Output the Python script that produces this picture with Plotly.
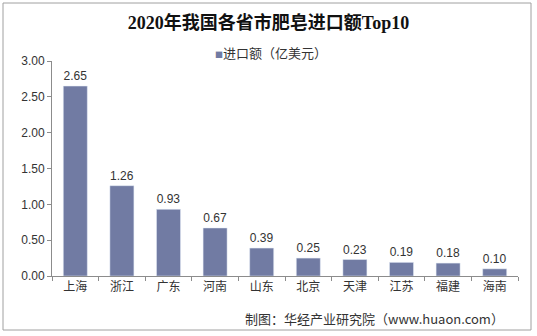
import plotly.graph_objects as go

categories = ["上海", "浙江", "广东", "河南", "山东", "北京", "天津", "江苏", "福建", "海南"]
values = [2.65, 1.26, 0.93, 0.67, 0.39, 0.25, 0.23, 0.19, 0.18, 0.10]
series_name = "进口额（亿美元）"
title_text = "2020年我国各省市肥皂进口额Top10"
source_text = "制图：华经产业研究院（www.huaon.com）"
y_ticks = [0, 0.5, 1.0, 1.5, 2.0, 2.5, 3.0]

W, H = 537, 336
L, R, T, B = 52, 19, 61, 60
pw = W - L - R
ph = H - T - B
bar_color = "#717ba3"

def px_x(x):
    return (x - L) / pw

def px_y(y):
    return (H - B - y) / ph

cjk = "Noto Sans CJK SC, Liberation Sans, sans-serif"

fig = go.Figure()
fig.add_trace(go.Bar(
    x=categories, y=values, name=series_name,
    marker=dict(color=bar_color),
    text=[f"{v:.2f}" for v in values],
    textposition="outside",
    textfont=dict(size=12, color="#333333", family="Liberation Sans, Arial, sans-serif"),
    cliponaxis=False,
    showlegend=False,
))

fig.update_layout(
    width=W, height=H,
    margin=dict(l=L, r=R, t=T, b=B),
    paper_bgcolor="white", plot_bgcolor="white",
    bargap=0.485,
    title=dict(text=f"<b>{title_text}</b>", x=0.5, xanchor="center", y=1 - 23 / H, yanchor="middle",
               font=dict(family="Liberation Serif, Noto Sans CJK SC, serif", size=18, color="#111111")),
    xaxis=dict(type="category", showline=True, linecolor="#8c8c8c", linewidth=1,
               ticks="outside", tickson="boundaries", ticklen=4, tickcolor="#8c8c8c",
               tickfont=dict(family=cjk, size=12, color="#333333"), showgrid=False),
    yaxis=dict(range=[0, 3], tickvals=y_ticks, ticktext=[f"{v:.2f}" for v in y_ticks],
               showline=True, linecolor="#8c8c8c", linewidth=1, ticks="outside", ticklen=4,
               tickcolor="#8c8c8c", showgrid=False, zeroline=False,
               tickfont=dict(family="Liberation Sans, Arial, sans-serif", size=12, color="#333333")),
    shapes=[dict(type="rect", xref="paper", yref="paper",
                 x0=px_x(3), x1=px_x(531), y0=px_y(330), y1=px_y(3),
                 line=dict(color="#a0a0a0", width=1), fillcolor="rgba(0,0,0,0)", layer="below")],
    annotations=[
        dict(text=f"<span style='color:{bar_color};font-size:8px'>■</span>{series_name}",
             xref="paper", yref="paper", x=px_x(213), y=px_y(53),
             xanchor="left", yanchor="middle", showarrow=False,
             font=dict(family=cjk, size=13, color="#333333")),
        dict(text=source_text, xref="paper", yref="paper", x=px_x(506), y=px_y(318),
             xanchor="right", yanchor="middle", showarrow=False,
             font=dict(family=cjk, size=13, color="#333333")),
    ],
)

fig.write_html("out.html")
